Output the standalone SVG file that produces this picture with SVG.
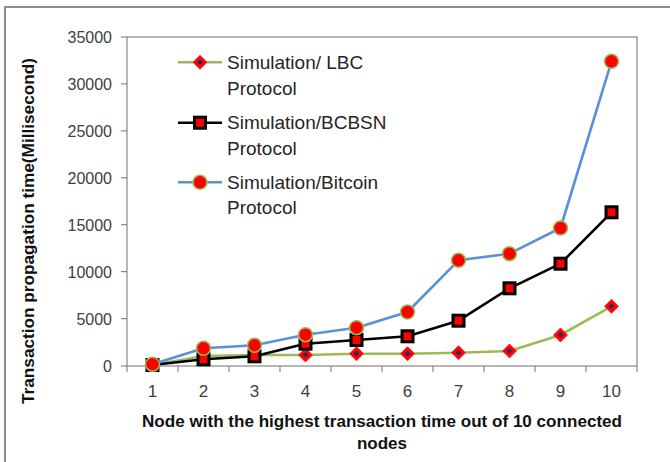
<svg xmlns="http://www.w3.org/2000/svg" width="670" height="462" viewBox="0 0 670 462">
<style>
.frame{fill:none;stroke:#8c8c8c;stroke-width:2}
.tick{stroke:#868686;stroke-width:1.2}
.ylab{font-family:"Liberation Sans",Arial,sans-serif;font-size:16px;fill:#404040;text-anchor:end}
.xlab{font-family:"Liberation Sans",Arial,sans-serif;font-size:17px;fill:#404040;text-anchor:middle}
.title{font-family:"Liberation Sans",Arial,sans-serif;font-size:17px;font-weight:bold;fill:#111}
.leg{font-family:"Liberation Sans",Arial,sans-serif;font-size:19px;fill:#262626}
.lbc{fill:none;stroke:#9bbb59;stroke-width:2.6;stroke-linejoin:round}
.bcbsn{fill:none;stroke:#000;stroke-width:2.6;stroke-linejoin:round}
.btc{fill:none;stroke:#5b8fd8;stroke-width:2.6;stroke-linejoin:round}
</style>
<defs>
<g id="dia"><path d="M0,-7 L7,0 L0,7 L-7,0 Z" fill="#ff0000" stroke="#ff2a2a" stroke-width="1"/><path d="M0,-2.8 L2.8,0 L0,2.8 L-2.8,0 Z" fill="#1f2d6b"/></g>
<rect id="sq" x="-5.5" y="-5.5" width="11" height="11" fill="#ff0000" stroke="#000" stroke-width="3"/>
<circle id="circ" r="7" fill="#ff0000" stroke="#9bbb59" stroke-width="1.6"/>
</defs>
<rect class="frame" x="5" y="7" width="690" height="480"/>
<g id="axes">
<rect x="127" y="37" width="510" height="329" fill="#fff" stroke="#868686" stroke-width="1.2"/>
<g class="tick">
<line x1="121" y1="37" x2="127" y2="37"/><line x1="121" y1="83.9" x2="127" y2="83.9"/><line x1="121" y1="130.9" x2="127" y2="130.9"/><line x1="121" y1="177.8" x2="127" y2="177.8"/><line x1="121" y1="224.7" x2="127" y2="224.7"/><line x1="121" y1="271.6" x2="127" y2="271.6"/><line x1="121" y1="318.6" x2="127" y2="318.6"/><line x1="121" y1="366" x2="127" y2="366"/>
<line x1="127" y1="366" x2="127" y2="372"/><line x1="178" y1="366" x2="178" y2="372"/><line x1="229" y1="366" x2="229" y2="372"/><line x1="280" y1="366" x2="280" y2="372"/><line x1="331" y1="366" x2="331" y2="372"/><line x1="382" y1="366" x2="382" y2="372"/><line x1="433" y1="366" x2="433" y2="372"/><line x1="484" y1="366" x2="484" y2="372"/><line x1="535" y1="366" x2="535" y2="372"/><line x1="586" y1="366" x2="586" y2="372"/><line x1="637" y1="366" x2="637" y2="372"/>
</g>
<g class="ylab">
<text x="112" y="42.5">35000</text><text x="112" y="89.5">30000</text><text x="112" y="136.5">25000</text><text x="112" y="183.5">20000</text><text x="112" y="230.5">15000</text><text x="112" y="277.5">10000</text><text x="112" y="324.5">5000</text><text x="112" y="371.5">0</text>
</g>
<g class="xlab">
<text x="152.5" y="397">1</text><text x="203.5" y="397">2</text><text x="254.5" y="397">3</text><text x="305.5" y="397">4</text><text x="356.5" y="397">5</text><text x="407.5" y="397">6</text><text x="458.5" y="397">7</text><text x="509.5" y="397">8</text><text x="560.5" y="397">9</text><text x="611.5" y="397">10</text>
</g>
<text class="title" x="142" y="427" textLength="480" lengthAdjust="spacingAndGlyphs">Node with the highest transaction time out of 10 connected</text>
<text class="title" x="382" y="449" text-anchor="middle">nodes</text>
<text class="title" transform="translate(34,231) rotate(-90)" x="-173" y="0" textLength="346" lengthAdjust="spacingAndGlyphs">Transaction propagation time(Millisecond)</text>
</g>
<g id="connectors">
<polyline class="lbc" points="152.5,365 203.5,356 254.5,355 305.5,355 356.5,353.7 407.5,353.7 458.5,352.7 509.5,351 560.5,335 611.5,306.3"/>
<polyline class="bcbsn" points="152.5,365 203.5,359.3 254.5,356.3 305.5,343.7 356.5,340 407.5,336.3 458.5,320.7 509.5,288.3 560.5,263.7 611.5,212.3"/>
<polyline class="btc" points="152.5,364.2 203.5,348.3 254.5,345.3 305.5,334.7 356.5,327.7 407.5,312 458.5,260.3 509.5,253.7 560.5,228 611.5,61.3"/>
</g>
<g id="series-lbc">
<use href="#dia" x="152.5" y="365"/><use href="#dia" x="203.5" y="356"/><use href="#dia" x="254.5" y="355"/><use href="#dia" x="305.5" y="355"/><use href="#dia" x="356.5" y="353.7"/><use href="#dia" x="407.5" y="353.7"/><use href="#dia" x="458.5" y="352.7"/><use href="#dia" x="509.5" y="351"/><use href="#dia" x="560.5" y="335"/><use href="#dia" x="611.5" y="306.3"/>
</g>
<g id="series-bcbsn">
<use href="#sq" x="152.5" y="365"/><use href="#sq" x="203.5" y="359.3"/><use href="#sq" x="254.5" y="356.3"/><use href="#sq" x="305.5" y="343.7"/><use href="#sq" x="356.5" y="340"/><use href="#sq" x="407.5" y="336.3"/><use href="#sq" x="458.5" y="320.7"/><use href="#sq" x="509.5" y="288.3"/><use href="#sq" x="560.5" y="263.7"/><use href="#sq" x="611.5" y="212.3"/>
</g>
<g id="series-bitcoin">
<use href="#circ" x="152.5" y="364.2"/><use href="#circ" x="203.5" y="348.3"/><use href="#circ" x="254.5" y="345.3"/><use href="#circ" x="305.5" y="334.7"/><use href="#circ" x="356.5" y="327.7"/><use href="#circ" x="407.5" y="312"/><use href="#circ" x="458.5" y="260.3"/><use href="#circ" x="509.5" y="253.7"/><use href="#circ" x="560.5" y="228"/><use href="#circ" x="611.5" y="61.3"/>
</g>
<g id="legend">
<line class="lbc" x1="178" y1="62.3" x2="222" y2="62.3"/><use href="#dia" x="200" y="62.3"/>
<text class="leg" x="227" y="69">Simulation/ LBC</text><text class="leg" x="227" y="95">Protocol</text>
<line class="bcbsn" x1="178" y1="122.7" x2="222" y2="122.7"/><use href="#sq" x="200" y="122.7"/>
<text class="leg" x="227" y="129">Simulation/BCBSN</text><text class="leg" x="227" y="154.5">Protocol</text>
<line class="btc" x1="178" y1="182.3" x2="222" y2="182.3"/><use href="#circ" x="200" y="182.3"/>
<text class="leg" x="227" y="189">Simulation/Bitcoin</text><text class="leg" x="227" y="214">Protocol</text>
</g>
</svg>
